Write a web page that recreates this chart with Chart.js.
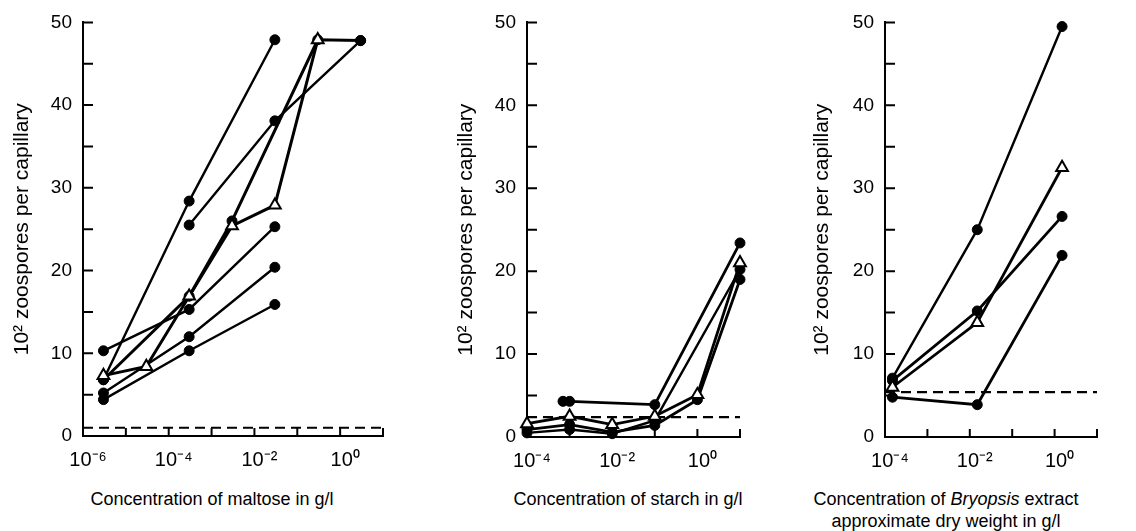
<!DOCTYPE html>
<html><head><meta charset="utf-8">
<script src="https://cdn.jsdelivr.net/npm/chart.js@4.4.1/dist/chart.umd.min.js"></script>
<style>
html,body{margin:0;padding:0;background:#fff;width:1136px;height:531px;overflow:hidden;font-family:"Liberation Sans",Arial,sans-serif;color:#000}
.panel{position:absolute;top:0}
.xt{position:absolute;font-size:18px;text-align:center;white-space:nowrap;line-height:22px;transform:translateX(-50%)}
</style></head><body>
<div class="panel" style="left:0px"><canvas id="c1" width="400" height="480"></canvas></div>
<div class="panel" style="left:440px"><canvas id="c2" width="320" height="480"></canvas></div>
<div class="panel" style="left:798px"><canvas id="c3" width="338" height="480"></canvas></div>
<div class="xt" style="left:212px;top:488px">Concentration of maltose in g/l</div>
<div class="xt" style="left:628px;top:488px">Concentration of starch in g/l</div>
<div class="xt" style="left:946px;top:488px">Concentration of <i>Bryopsis</i> extract<br>approximate dry weight in g/l</div>
<script>
// ---------- shared ----------
const yTitle = '10\u00B2 zoospores per capillary';
const yTickValues = [0, 5, 10, 15, 20, 25, 30, 35, 40, 45, 50];
const yTickLabels = ['0', '', '10', '', '20', '', '30', '', '40', '', '50'];

// ---------- Panel 1: maltose ----------
const maltoseConc = [3e-6, 3e-5, 3e-4, 3e-3, 3e-2, 3e-1, 3];
const maltose1 = [6.8, null, 28.4, null, 47.9, null, null];
const maltose2 = [null, null, 25.5, null, 38.1, null, 47.8];
const maltose3 = [6.8, null, 16.9, 26.0, null, 47.9, 47.8];
const maltoseTri = [7.3, 8.4, 16.9, 25.4, 27.9, 47.9, null];
const maltose5 = [10.3, null, 15.3, null, 25.3, null, null];
const maltose6 = [5.2, null, 12.0, null, 20.4, null, null];
const maltose7 = [4.4, null, 10.3, null, 15.9, null, null];
const maltoseControl = 1.0;
const maltoseDecades = [1e-6, 1e-5, 1e-4, 1e-3, 1e-2, 1e-1, 1, 10];
const maltoseTickLabels = ['10\u207B\u2076', '', '10\u207B\u2074', '', '10\u207B\u00B2', '', '10\u2070', ''];

// ---------- Panel 2: starch ----------
const starchConc = [1e-4, 7e-4, 1e-3, 1e-2, 1e-1, 1, 10];
const starch1 = [null, 4.3, 4.3, null, 3.9, null, 23.4];
const starchTri = [1.6, null, 2.5, 1.5, 2.5, 5.1, 21.0];
const starch3 = [0.9, null, 1.5, 0.6, 1.4, 4.5, 19.0];
const starch4 = [0.5, null, 0.9, 0.4, 2.0, null, 20.2];
const starchControl = 2.4;
const starchDecades = [1e-4, 1e-3, 1e-2, 1e-1, 1, 10];
const starchTickLabels = ['10\u207B\u2074', '', '10\u207B\u00B2', '', '10\u2070', ''];

// ---------- Panel 3: Bryopsis extract ----------
const bryConc = [1.5e-4, 1.5e-2, 1.5];
const bry1 = [7.1, 25.0, 49.5];
const bryTri = [6.0, 13.8, 32.5];
const bry3 = [6.8, 15.2, 26.6];
const bry4 = [4.8, 3.9, 21.9];
const bryControl = 5.4;
const bryDecades = [1e-4, 1e-3, 1e-2, 1e-1, 1, 10];
const bryTickLabels = ['10\u207B\u2074', '', '10\u207B\u00B2', '', '10\u2070', ''];

// ---------- helpers ----------
const FONT = '"Liberation Sans", Arial, sans-serif';
function series(conc, vals, tri, width) {
  return {
    data: conc.map((x, i) => ({x: x, y: vals[i]})).filter(p => p.y !== null),
    showLine: true,
    borderColor: '#000',
    borderWidth: width || 2.4,
    pointStyle: tri ? 'triangle' : 'circle',
    pointRadius: tri ? 6.8 : 5,
    pointBackgroundColor: tri ? '#fff' : '#000',
    pointBorderColor: '#000',
    pointBorderWidth: tri ? 2 : 1,
    clip: false
  };
}
function control(decades, level) {
  return {
    data: [{x: decades[0], y: level}, {x: decades[decades.length - 1], y: level}],
    showLine: true, borderColor: '#000', borderWidth: 2.2, borderDash: [10, 6],
    pointRadius: 0, clip: false
  };
}
const inwardTicks = {
  id: 'inwardTicks',
  afterDraw(chart) {
    const {ctx, chartArea, scales} = chart;
    ctx.save();
    ctx.strokeStyle = '#000';
    ctx.lineWidth = 2;
    ctx.beginPath();
    scales.x.ticks.forEach(t => {
      const px = scales.x.getPixelForValue(t.value);
      ctx.moveTo(px, chartArea.bottom);
      ctx.lineTo(px, chartArea.bottom - 8);
    });
    scales.y.ticks.forEach(t => {
      const py = scales.y.getPixelForValue(t.value);
      ctx.moveTo(chartArea.left, py);
      ctx.lineTo(chartArea.left + 10, py);
    });
    ctx.stroke();
    ctx.restore();
  }
};
function makeChart(id, datasets, decades, tickLabels, geo) {
  return new Chart(document.getElementById(id), {
    type: 'scatter',
    data: {datasets: datasets},
    plugins: [inwardTicks],
    options: {
      responsive: false, animation: false, devicePixelRatio: 1, events: [],
      layout: {padding: {left: 0, right: geo.right, top: geo.top, bottom: 0}},
      plugins: {legend: {display: false}, tooltip: {enabled: false}},
      scales: {
        x: {
          type: 'logarithmic', min: decades[0], max: decades[decades.length - 1],
          grid: {display: false, drawTicks: false},
          border: {display: true, color: '#000', width: 2},
          afterBuildTicks: s => { s.ticks = decades.map(v => ({value: v})); },
          afterFit: s => { s.height = geo.xh; },
          ticks: {
            autoSkip: false, maxRotation: 0, padding: 12, labelOffset: 5,
            color: '#000', font: {family: FONT, size: 20},
            callback: (v, i) => tickLabels[i]
          }
        },
        y: {
          type: 'linear', min: 0, max: 50,
          grid: {display: false, drawTicks: false},
          border: {display: true, color: '#000', width: 2},
          afterBuildTicks: s => { s.ticks = yTickValues.map(v => ({value: v})); },
          afterFit: s => { s.width = geo.yw; },
          ticks: {
            autoSkip: false, padding: 11, color: '#000',
            font: {family: FONT, size: 19},
            callback: (v, i) => yTickLabels[i]
          },
          title: {
            display: true, text: yTitle, color: '#000',
            font: {family: FONT, size: 21},
            padding: {top: geo.tp, bottom: 0}
          }
        }
      }
    }
  });
}

makeChart('c1', [
  series(maltoseConc, maltoseTri, true, 3),
  series(maltoseConc, maltose1, false),
  series(maltoseConc, maltose2, false),
  series(maltoseConc, maltose3, false, 3),
  series(maltoseConc, maltose5, false),
  series(maltoseConc, maltose6, false),
  series(maltoseConc, maltose7, false),
  control(maltoseDecades, maltoseControl)
], maltoseDecades, maltoseTickLabels, {right: 17, top: 21, xh: 44, yw: 83, tp: 10});

makeChart('c2', [
  series(starchConc, starchTri, true, 2.8),
  series(starchConc, starch1, false, 2.8),
  series(starchConc, starch3, false, 2.8),
  series(starchConc, starch4, false),
  control(starchDecades, starchControl)
], starchDecades, starchTickLabels, {right: 20, top: 18, xh: 43, yw: 87, tp: 14});

makeChart('c3', [
  series(bryConc, bryTri, true, 2.8),
  series(bryConc, bry1, false),
  series(bryConc, bry3, false, 2.8),
  series(bryConc, bry4, false, 2.8),
  control(bryDecades, bryControl)
], bryDecades, bryTickLabels, {right: 39, top: 19, xh: 43, yw: 87, tp: 12});
</script>
</body></html>
